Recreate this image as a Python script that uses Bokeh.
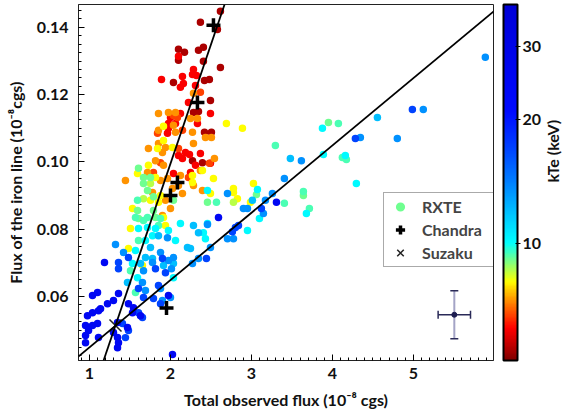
import numpy as np
from bokeh.plotting import figure
from bokeh.models import (ColumnDataSource, LogColorMapper, ColorBar, FixedTicker,
                          Slope, Whisker, TeeHead, Legend, LegendItem, LinearAxis,
                          SingleIntervalTicker, PrintfTickFormatter, BasicTickFormatter)
from bokeh.embed import file_html
from bokeh.resources import INLINE

FONT = "Lato"

# ---------------- data (RXTE points, grouped by kTe colour class) ----------------
dr_kte = 5.5
dr_x = [2.617, 2.370, 2.580, 2.173, 2.407, 2.346, 2.099, 2.407, 2.617, 2.037, 2.420, 2.481,
        2.494, 2.284, 2.346, 2.420, 2.506, 2.272, 2.395, 2.099]
dr_y = [0.1448, 0.1415, 0.1394, 0.1326, 0.1341, 0.1332, 0.1302, 0.1299, 0.1281, 0.1236, 0.1242, 0.1245,
        0.1183, 0.1147, 0.1150, 0.1088, 0.1088, 0.1004, 0.0998, 0.1335]

r_kte = 6.2
r_x = [2.099, 2.284, 2.272, 2.321, 2.148, 1.889, 2.160, 2.123, 2.309, 2.222, 2.494, 2.000, 2.123,
       1.975, 1.963, 1.975, 2.062, 2.333, 2.099, 2.148, 2.235, 2.370, 2.185, 2.494, 2.309, 2.247, 2.037]
r_y = [0.1314, 0.1275, 0.1260, 0.1257, 0.1254, 0.1245, 0.1233, 0.1222, 0.1227, 0.1177, 0.1144, 0.1132, 0.1144,
       0.1100, 0.1085, 0.1114, 0.1114, 0.1114, 0.1019, 0.1010, 0.1022, 0.1025, 0.1028, 0.0996, 0.0990, 0.0969, 0.0966]

or_kte = 6.7
or_x = [2.370, 2.086, 1.840, 2.148, 2.099, 1.877, 1.790, 2.222, 2.481, 2.037]
or_y = [0.1207, 0.1132, 0.1085, 0.1094, 0.1040, 0.0998, 0.0969, 0.0954, 0.0996, 0.1138]

o_kte = 7.3
o_x = [2.284, 1.852, 1.975, 2.062, 2.247, 2.333, 2.037, 1.852, 2.062, 2.272, 2.432, 2.506, 2.284,
       1.852, 1.728, 1.901, 1.938, 1.815, 1.914, 1.716, 1.444, 1.877, 1.963, 2.123, 2.370, 2.543,
       2.099, 2.025, 2.148, 1.778, 1.938, 1.901, 2.000, 2.395, 2.284]
o_y = [0.1204, 0.1144, 0.1147, 0.1147, 0.1129, 0.1129, 0.1109, 0.1094, 0.1088, 0.1088, 0.1073, 0.1073, 0.1055,
       0.1055, 0.1040, 0.1028, 0.1043, 0.1004, 0.0990, 0.0969, 0.0945, 0.0945, 0.0951, 0.0960, 0.0975, 0.1010,
       0.0930, 0.0921, 0.0906, 0.0909, 0.0886, 0.0841, 0.0862, 0.0915, 0.0930]

y_kte = 8.05
y_x = [1.914, 2.691, 2.889, 1.914, 1.840, 2.025, 1.728, 1.593, 1.815, 2.272, 2.272, 1.877, 1.753,
       1.852, 1.531, 2.494, 2.531, 2.395, 2.778, 2.778, 2.827, 3.025, 2.988, 1.506, 1.481, 1.654,
       1.938, 1.914]
y_y = [0.1106, 0.1114, 0.1100, 0.1064, 0.1040, 0.1043, 0.0990, 0.0966, 0.0954, 0.0960, 0.0939, 0.0900, 0.0886,
       0.0880, 0.0862, 0.0906, 0.0951, 0.0975, 0.0921, 0.0909, 0.0891, 0.0936, 0.0880, 0.0802, 0.0743, 0.0692,
       0.0811, 0.0835]

yg_kte = 8.55
yg_x = [1.753, 1.667, 2.778]
yg_y = [0.0936, 0.0891, 0.0880]

lg_kte = 9.1
lg_x = [1.605, 1.667, 1.753, 1.667, 1.716, 1.790, 2.037, 1.593, 1.790, 2.457, 3.062, 3.642, 3.951,
        1.605, 1.815]
lg_y = [0.0981, 0.0954, 0.0954, 0.0936, 0.0915, 0.0897, 0.0886, 0.0856, 0.0856, 0.0880, 0.0903, 0.0900, 0.1117,
        0.0832, 0.0835]

aq_kte = 9.45
aq_x = [1.593, 1.716, 2.568, 3.296, 3.642, 3.407, 3.716, 4.074, 4.123, 4.173, 1.605, 1.506, 1.568,
        1.568, 1.667, 1.852, 1.877]
aq_y = [0.0886, 0.0835, 0.0880, 0.1049, 0.0912, 0.0877, 0.0862, 0.1114, 0.1013, 0.1007, 0.0767, 0.0677, 0.0612,
        0.0835, 0.0826, 0.0811, 0.0832]

c_kte = 10.2
c_x = [2.457, 3.074, 3.099, 3.679, 2.951, 2.407, 2.123, 1.691, 1.778, 2.062, 2.432, 2.457, 1.568,
       1.531, 1.593, 2.037, 3.877, 3.889, 4.160, 4.296, 1.716, 1.815, 1.605, 1.975]
c_y = [0.0915, 0.0918, 0.0832, 0.0847, 0.0796, 0.0790, 0.0817, 0.0767, 0.0781, 0.0767, 0.0772, 0.0817, 0.0737,
       0.0698, 0.0656, 0.0656, 0.1100, 0.1022, 0.1019, 0.0936, 0.0805, 0.0802, 0.0802, 0.0796]

sb_kte = 12.0
sb_x = [3.481, 3.012, 4.556, 1.852, 2.284, 2.346, 2.210, 2.247, 1.753, 1.691, 1.778, 1.630, 1.914,
        2.037, 1.469]
sb_y = [0.1010, 0.0886, 0.1132, 0.0781, 0.0811, 0.0790, 0.0746, 0.0743, 0.0746, 0.0716, 0.0713, 0.0698, 0.0692,
        0.0698, 0.0642]

lb_kte = 13.5
lb_x = [3.617, 3.407, 2.704, 3.259, 3.173, 2.901, 2.951, 3.148, 2.457, 2.778, 2.704, 1.321, 1.963,
        2.494, 1.420, 1.877, 1.975, 2.037, 2.012, 2.346, 1.778, 2.272, 1.667, 1.654, 1.691, 1.877,
        2.000, 1.901, 5.889, 5.123, 4.346, 4.802]
lb_y = [0.1004, 0.0951, 0.0906, 0.0906, 0.0886, 0.0862, 0.0862, 0.0847, 0.0814, 0.0772, 0.0772, 0.0755, 0.0775,
        0.0746, 0.0731, 0.0731, 0.0707, 0.0716, 0.0683, 0.0713, 0.0701, 0.0698, 0.0677, 0.0642, 0.0618, 0.0624,
        0.0597, 0.0588, 0.1311, 0.1156, 0.1073, 0.1070]

b_kte = 17.0
b_x = [3.123, 2.840, 2.802, 2.765, 1.481, 1.901, 2.444, 1.358, 1.358, 1.815, 1.938, 1.605, 1.852,
       1.667, 1.790, 1.605, 1.654, 1.407, 1.481, 1.444, 4.988, 4.284, 1.877]
b_y = [0.0862, 0.0811, 0.0805, 0.0793, 0.0716, 0.0713, 0.0713, 0.0701, 0.0683, 0.0683, 0.0671, 0.0624, 0.0633,
       0.0597, 0.0594, 0.0552, 0.0538, 0.0520, 0.0499, 0.0478, 0.1156, 0.1070, 0.0579]

db_kte = 25.0
db_x = [2.593, 3.309, 1.185, 1.975, 1.037, 1.099, 1.296, 1.222, 1.111, 0.975, 1.481, 1.543, 1.630,
        0.951, 1.037, 0.988, 1.346, 1.296, 1.111, 0.951, 1.346, 1.358, 1.346, 0.951, 2.025, 1.358,
        1.136, 1.531, 1.469, 1.099, 1.037]
db_y = [0.0835, 0.0880, 0.0701, 0.0603, 0.0603, 0.0612, 0.0588, 0.0579, 0.0558, 0.0543, 0.0579, 0.0567, 0.0543,
        0.0514, 0.0514, 0.0499, 0.0523, 0.0493, 0.0478, 0.0484, 0.0478, 0.0463, 0.0448, 0.0463, 0.0428, 0.0609,
        0.0564, 0.0552, 0.0508, 0.0520, 0.0552]

# Chandra and Suzaku points
chandra_x = [2.531, 2.333, 2.086, 2.000, 1.951]
chandra_y = [0.1406, 0.1177, 0.0939, 0.0900, 0.0566]
suzaku_x = [1.321]
suzaku_y = [0.0514]

# fitted lines (slope, intercept)
steep_fit = (0.0708, -0.0421)
shallow_fit = (0.0200, 0.0249)

# typical error bar
err_x, err_y = [5.506], [0.0546]
err_dx, err_dy = 0.20, 0.0071

# axis settings
x_lim = (0.864, 5.99)
y_lim = (0.0410, 0.1468)
kte_lim = (5.2, 38.0)
cbar_ticks = [10, 20, 30]

# ---------------- colour palette (jet-like, as in the colour bar) ----------------
anchors = [(0.00, (128, 0, 0)), (0.04, (190, 0, 0)), (0.09, (255, 0, 0)), (0.15, (255, 110, 0)),
           (0.19, (255, 190, 0)), (0.22, (255, 255, 0)), (0.27, (140, 255, 115)), (0.33, (0, 255, 255)),
           (0.42, (0, 190, 255)), (0.50, (0, 128, 255)), (0.60, (0, 64, 255)), (0.70, (0, 10, 255)),
           (1.00, (0, 0, 215))]
pos = np.array([a[0] for a in anchors])
rgb = np.array([a[1] for a in anchors], dtype=float)
tt = np.linspace(0, 1, 256)
palette = ["#%02x%02x%02x" % tuple(int(round(np.interp(t, pos, rgb[:, k]))) for k in range(3)) for t in tt]
mapper = LogColorMapper(palette=palette, low=kte_lim[0], high=kte_lim[1])

groups = [(dr_kte, dr_x, dr_y), (r_kte, r_x, r_y), (or_kte, or_x, or_y), (o_kte, o_x, o_y),
          (y_kte, y_x, y_y), (yg_kte, yg_x, yg_y), (lg_kte, lg_x, lg_y), (aq_kte, aq_x, aq_y),
          (c_kte, c_x, c_y), (sb_kte, sb_x, sb_y), (lb_kte, lb_x, lb_y), (b_kte, b_x, b_y),
          (db_kte, db_x, db_y)]
all_x, all_y, all_k = [], [], []
for k, xs, ys in groups:
    all_x += xs
    all_y += ys
    all_k += [k] * len(xs)
src = ColumnDataSource(dict(x=all_x, y=all_y, kte=all_k))

# ---------------- figure ----------------
p = figure(width=574, height=419, x_range=x_lim, y_range=y_lim,
           output_backend="svg", toolbar_location=None,
           min_border_left=78, min_border_right=81, min_border_top=4, min_border_bottom=59)
p.xgrid.visible = False
p.ygrid.visible = False
p.outline_line_color = "#222222"
p.outline_line_width = 1
p.background_fill_color = "white"
p.border_fill_color = "white"

p.xaxis.ticker = SingleIntervalTicker(interval=1, num_minor_ticks=10)
p.yaxis.ticker = SingleIntervalTicker(interval=0.02, num_minor_ticks=8)
p.yaxis.formatter = PrintfTickFormatter(format="%.2f")
p.xaxis.formatter = BasicTickFormatter()
for ax in (p.xaxis, p.yaxis):
    ax.major_tick_in = 6
    ax.major_tick_out = 0
    ax.minor_tick_in = 3
    ax.minor_tick_out = 0
    ax.major_tick_line_color = "black"
    ax.minor_tick_line_color = "black"
    ax.axis_line_color = "#222222"
    ax.major_label_text_font = FONT
    ax.major_label_text_font_style = "bold"
    ax.major_label_text_font_size = "16px"
    ax.major_label_text_color = "#111111"
    ax.axis_label_text_font = FONT
    ax.axis_label_text_font_style = "bold"
    ax.axis_label_text_font_size = "16px"
    ax.axis_label_text_color = "#111111"
p.xaxis.axis_label = "Total observed flux (10\u207b\u2078 cgs)"
p.yaxis.axis_label = "Flux of the iron line (10\u207b\u2078cgs)"
p.xaxis.major_label_standoff = 7
p.yaxis.major_label_standoff = 10
p.xaxis.axis_label_standoff = 8
p.yaxis.axis_label_standoff = 9

# scatter
rxte = p.scatter("x", "y", source=src, size=7.5, line_color=None,
                 fill_color={"field": "kte", "transform": mapper})

# fitted lines
p.add_layout(Slope(gradient=steep_fit[0], y_intercept=steep_fit[1], line_color="black", line_width=1.8))
p.add_layout(Slope(gradient=shallow_fit[0], y_intercept=shallow_fit[1], line_color="black", line_width=1.8))

# error bar
esrc = ColumnDataSource(dict(x=err_x, y=err_y,
                             xl=[v - err_dx for v in err_x], xu=[v + err_dx for v in err_x],
                             yl=[v - err_dy for v in err_y], yu=[v + err_dy for v in err_y]))
p.add_layout(Whisker(source=esrc, base="x", lower="yl", upper="yu", dimension="height",
                     line_color="#a4a4c6", line_width=2,
                     upper_head=TeeHead(size=8, line_color="#2a2a58", line_width=1.5),
                     lower_head=TeeHead(size=8, line_color="#2a2a58", line_width=1.5)))
p.add_layout(Whisker(source=esrc, base="y", lower="xl", upper="xu", dimension="width",
                     line_color="#2a2a58", line_width=1.5,
                     upper_head=TeeHead(size=8, line_color="#2a2a58", line_width=1.5),
                     lower_head=TeeHead(size=8, line_color="#2a2a58", line_width=1.5)))
p.scatter("x", "y", source=esrc, size=5, color="#1c1c50")

# Chandra & Suzaku
chandra = p.scatter(chandra_x, chandra_y, marker="cross", size=14, line_width=3.5, line_color="black")
suzaku = p.scatter(suzaku_x, suzaku_y, marker="x", size=17, line_width=1.5, line_color="#222222")

lg_index = all_k.index(lg_kte)
legend = Legend(items=[LegendItem(label="RXTE", renderers=[rxte], index=lg_index),
                       LegendItem(label="Chandra", renderers=[chandra]),
                       LegendItem(label="Suzaku", renderers=[suzaku])],
                location=(305, 93), padding=2, spacing=0, margin=0,
                glyph_width=28, glyph_height=23, label_height=23, label_width=74, label_standoff=8,
                label_text_font=FONT, label_text_font_style="bold", label_text_font_size="16px",
                border_line_color="#555555", border_line_width=1.5, background_fill_alpha=1)
p.add_layout(legend)

# colour bar
cbar = ColorBar(color_mapper=mapper, ticker=FixedTicker(ticks=cbar_ticks), formatter=BasicTickFormatter(),
                width=14, padding=0, margin=0, location=(10, 0), bar_line_color="black", bar_line_width=2,
                major_tick_line_color="black", major_tick_in=2, major_tick_out=3,
                minor_tick_line_color=None, label_standoff=2,
                major_label_text_font=FONT, major_label_text_font_style="bold",
                major_label_text_font_size="16px", major_label_text_color="#111111",
                border_line_color=None, background_fill_alpha=0)
p.add_layout(cbar, "right")
cb_axis = LinearAxis(axis_label="kTe (keV)", ticker=FixedTicker(ticks=[]),
                     axis_line_color=None, major_tick_line_color=None, minor_tick_line_color=None,
                     axis_label_orientation=np.pi / 2,
                     axis_label_text_font=FONT, axis_label_text_font_style="bold",
                     axis_label_text_font_size="16px", axis_label_text_color="#111111",
                     axis_label_standoff=8)
p.add_layout(cb_axis, "right")

open("out.html", "w").write(file_html(p, INLINE))
